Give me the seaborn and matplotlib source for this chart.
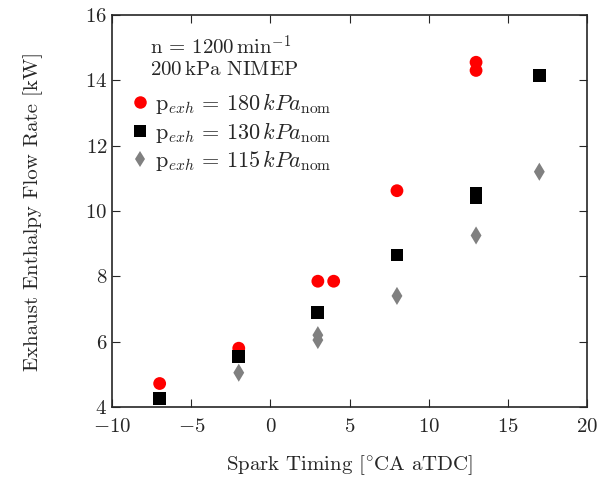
import pandas as pd
import matplotlib.pyplot as plt
import seaborn as sns

# spark timing [°CA aTDC] and exhaust enthalpy flow [kW] per back pressure
x_180 = [-7, -2, 3, 4, 8, 13, 13]
y_180 = [4.72, 5.8, 7.85, 7.85, 10.62, 14.55, 14.3]
x_130 = [-7, -2, 3, 8, 13, 13, 17]
y_130 = [4.25, 5.55, 6.9, 8.65, 10.55, 10.4, 14.15]
x_115 = [-2, 3, 3, 8, 13, 17]
y_115 = [5.05, 6.2, 6.05, 7.4, 9.25, 11.2]

labels = [r'$\mathrm{p}_{exh}\,=\,180\,kPa_{\mathrm{nom}}$',
          r'$\mathrm{p}_{exh}\,=\,130\,kPa_{\mathrm{nom}}$',
          r'$\mathrm{p}_{exh}\,=\,115\,kPa_{\mathrm{nom}}$']

df = pd.concat([
    pd.DataFrame({'x': x_180, 'y': y_180, 'grp': labels[0]}),
    pd.DataFrame({'x': x_130, 'y': y_130, 'grp': labels[1]}),
    pd.DataFrame({'x': x_115, 'y': y_115, 'grp': labels[2]}),
])

sns.set_style('ticks')
plt.rcParams['font.family'] = ['cmr10', 'DejaVu Serif']
plt.rcParams['mathtext.fontset'] = 'cm'
plt.rcParams['axes.formatter.use_mathtext'] = True
plt.rcParams['axes.unicode_minus'] = True

fig = plt.figure(figsize=(6, 4.8), dpi=100)
ax = fig.add_axes([0.187, 0.152, 0.791, 0.817])

sns.scatterplot(data=df, x='x', y='y', hue='grp', style='grp',
                palette={labels[0]: '#ff0000', labels[1]: '#000000', labels[2]: '#808080'},
                markers={labels[0]: 'o', labels[1]: 's', labels[2]: 'd'},
                s=80, linewidth=0, ax=ax)
for coll, sz in zip(ax.collections, [85, 85, 70]):
    coll.set_sizes([sz])

ax.set_xlim(-10, 20)
ax.set_ylim(4, 16)
ax.set_xticks([-10, -5, 0, 5, 10, 15, 20])
ax.set_yticks([4, 6, 8, 10, 12, 14, 16])
ax.tick_params(direction='in', top=True, right=True, labelsize=15, length=6)
ax.tick_params(axis='x', pad=8)
for sp in ax.spines.values():
    sp.set_linewidth(1.2)
ax.set_xlabel(r'Spark Timing [$^{\circ}$CA aTDC]', fontsize=15, labelpad=12)
ax.set_ylabel('Exhaust Enthalpy Flow Rate [kW]', fontsize=15, labelpad=30)

ax.text(0.08, 0.918, r'n = 1200$\,\mathrm{min}^{-1}$', transform=ax.transAxes,
        fontsize=15, va='center')
ax.text(0.08, 0.86, r'200$\,$kPa NIMEP', transform=ax.transAxes,
        fontsize=15, va='center')

leg = ax.legend(loc='upper left', bbox_to_anchor=(0.01, 0.828), frameon=False,
                fontsize=16, handletextpad=0.0, labelspacing=0.15,
                handlelength=1.3, borderaxespad=0)
for h, sz in zip(leg.legend_handles, [9, 9, 8]):
    h.set_markersize(sz)

fig.savefig('out.png', dpi=100)
